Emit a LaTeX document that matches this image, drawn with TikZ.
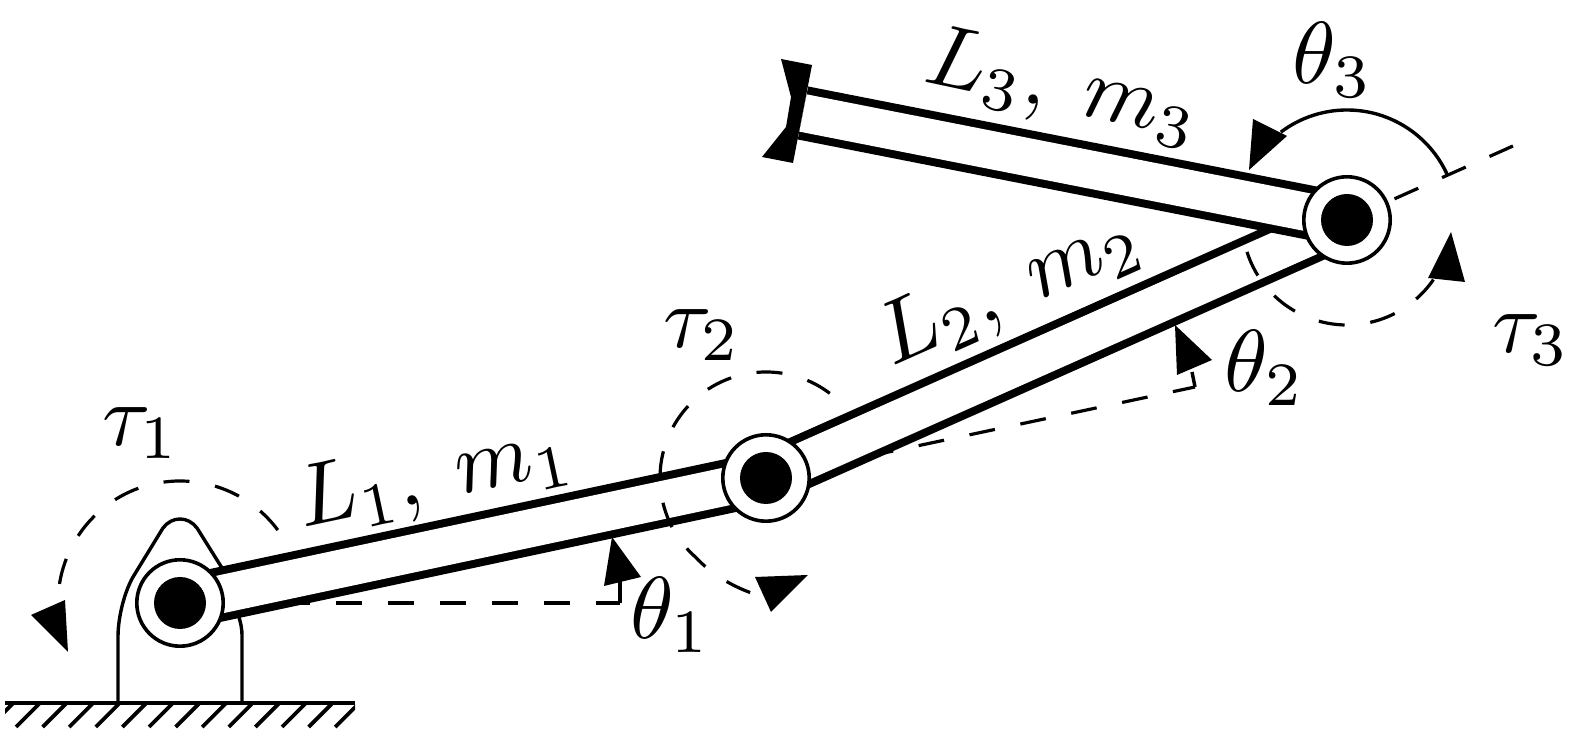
\documentclass[tikz,border=0pt]{standalone}
\usepackage{amsmath, amssymb}
\usetikzlibrary{positioning, calc}

\tikzset{
  thinline/.style={line width=0.85pt},
  dashline/.style={line width=0.8pt, dash pattern=on 6.5pt off 6.5pt},
  linkbar/.style={line width=2pt, double=white, double distance=9.5pt},
  tiptri/.style={fill=black, draw=none},
  jointring/.style={circle, draw, fill=white, line width=0.9pt, minimum size=21.6pt, inner sep=0pt},
  jointpin/.style={circle, fill=black, minimum size=13pt, inner sep=0pt},
  lbl/.style={font=\normalsize, inner sep=0pt, transform shape, scale=2.2}
}

\begin{document}
\begin{tikzpicture}[x=0.25pt, y=0.25pt]
  \useasboundingbox (0,0) rectangle (1574,736);

  \coordinate (c1) at (180,133);
  \coordinate (c2) at (766,258);
  \coordinate (c3) at (1347,516);
  \coordinate (free3) at (803,623);

  % Ground
  \begin{scope}
    \clip (5,0) rectangle (355,33);
    \foreach \x in {13.4,40,...,365} {
      \draw[line width=0.95pt] (\x,33) -- ++(-24,-24);
    }
  \end{scope}
  \draw[line width=0.9pt] (5,33) -- (355,33);

  % Base
  \draw[thinline] (118,33) -- (118,99) .. controls (118,120) and (125,145) .. (133,159)
    -- (163,208) .. controls (172,220) and (188,220) .. (197,208)
    -- (222,168) -- (238,122) .. controls (241,112) and (242,108) .. (242,99) -- (242,33);

  % Reference lines
  \draw[dashline] (c1) -- (620,133);
  \draw[dashline] (c2) -- (1195,349);
  \draw[dashline] (c3) -- ++(166,74);

  % Links
  \draw[linkbar] (c1) -- (c2);
  \draw[linkbar] (c2) -- (c3);
  \draw[linkbar] (c3) -- (free3);
  \fill[tiptri] (781,677) -- (812,671) -- (793,573) -- (762,579) -- (786,609) -- (791,639) -- cycle;

  % Torques
  \draw[dashline] (c1) ++(36.7:122) arc[start angle=36.7, end angle=171.6, radius=122];
  \draw[dashline] (c2) ++(53:106) arc[start angle=53, end angle=228, radius=106]
    .. controls +(17,-18) and +(-24,8) .. (757,141);
  \draw[dashline] (c3) ++(197.7:105) arc[start angle=197.7, end angle=326, radius=105];
  \fill[tiptri] (65,136) -- (31,121) -- (68,84) -- cycle;
  \fill[tiptri] (755,159) -- (808,161) -- (771,124) -- cycle;
  \fill[tiptri] (1451,504) -- (1428,458) -- (1465,454) -- cycle;

  % Angles
  \draw[thinline] (620,133) -- (620,156);
  \draw[thinline] (1195,349) -- (1192,364);
  \draw[thinline] (c3) ++(24:110) arc[start angle=24, end angle=127, radius=110];
  \fill[tiptri] (612,199) -- (604,150) -- (641,159) -- cycle;
  \fill[tiptri] (1175,411) -- (1177,361) -- (1212,376) -- cycle;
  \fill[tiptri] (1253,617) -- (1287,600) -- (1249,566) -- cycle;

  % Joints
  \foreach \j in {1,2,3} {
    \node[jointring] (ring\j) at (c\j) {};
    \node[jointpin] (pin\j) at (c\j) {};
  }

  % Labels
  \node[lbl] (tau1) at (141,303) {$\tau_1$};
  \node[lbl] (tau2) at (702,401) {$\tau_2$};
  \node[lbl] (tau3) at (1531,396) {$\tau_3$};
  \node[lbl] (theta1) at (671,121) {$\theta_1$};
  \node[lbl] (theta2) at (1265,368) {$\theta_2$};
  \node[lbl] (theta3) at (1333,676) {$\theta_3$};
  \node[lbl, rotate=12] (len1) at (435,258) {$L_1,\mskip4.5mu m_1$};
  \node[lbl, rotate=24] (len2) at (1010,446) {$L_2,\mskip4.5mu m_2$};
  \node[lbl, rotate=-12] (len3) at (1063,647) {$L_3,\mskip4.5mu m_3$};
\end{tikzpicture}
\end{document}
